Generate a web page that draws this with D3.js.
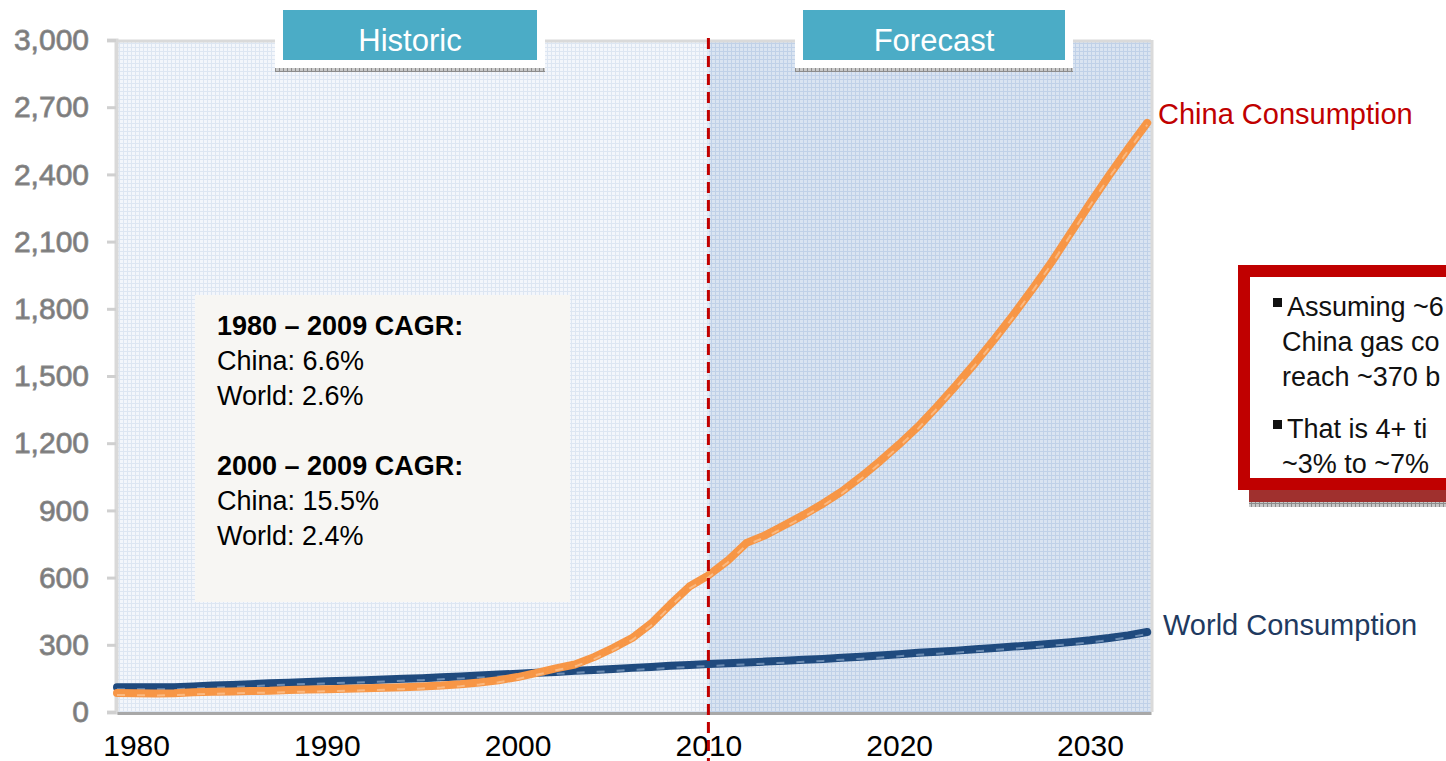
<!DOCTYPE html>
<html>
<head>
<meta charset="utf-8">
<script src="https://cdn.jsdelivr.net/npm/d3@7"></script>
<style>
  body { margin: 0; background: #fff; overflow: hidden; }
  svg { display: block; font-family: "Liberation Sans", Arial, sans-serif; }
</style>
</head>
<body>
<svg id="chart"></svg>
<script>
// gas consumption index
let years = d3.range(1979, 2034)
let chinaValues = [85, 84, 83, 84, 88, 90, 92, 94, 95, 98,
                   100, 102, 104, 106, 108, 111, 114, 118, 124, 132,
                   142, 156, 175, 195, 212, 245, 285, 330, 395, 480,
                   560, 610, 675, 755, 790, 835, 880, 930, 985, 1050,
                   1120, 1195, 1275, 1365, 1460, 1560, 1665, 1775, 1890, 2010,
                   2140, 2270, 2395, 2515, 2630]
let worldValues = [110, 110, 110, 110, 114, 118, 121, 124, 128, 131,
                   134, 137, 140, 142, 145, 148, 151, 155, 159, 163,
                   167, 171, 175, 179, 184, 188, 192, 197, 201, 206,
                   210, 214, 218, 221, 225, 229, 233, 237, 242, 247,
                   252, 258, 264, 269, 274, 280, 286, 292, 298, 305,
                   312, 320, 330, 342, 357]
let yTicks = [0, 300, 600, 900, 1200, 1500, 1800, 2100, 2400, 2700, 3000]
let xTicks = [1980, 1990, 2000, 2010, 2020, 2030]
let splitYear = 2010
let seriesLabels = ["China Consumption", "World Consumption"]
let phaseLabels = ["Historic", "Forecast"]
let cagrLines = [
    ["1980 – 2009 CAGR:", true],
    ["China: 6.6%", false],
    ["World: 2.6%", false],
    ["", false],
    ["2000 – 2009 CAGR:", true],
    ["China: 15.5%", false],
    ["World: 2.4%", false]
]
// the note runs off the right edge of the picture; only what shows is kept
let noteLines = [
    ["Assuming ~6", true],
    ["China gas co", false],
    ["reach ~370 b", false],
    ["That is 4+ ti", true],
    ["~3% to ~7%", false]
]

let chinaData = years.map((y, i) => [y, chinaValues[i]])
let worldData = years.map((y, i) => [y, worldValues[i]])

let width = 1446
let height = 761
let plotLeft = 117, plotRight = 1151, plotTop = 42, plotBottom = 712

let svg = d3.select("#chart")
            .attr("width", width)
            .attr("height", height)

let X = d3.scaleLinear()
          .domain([1979, 2033.2])
          .range([plotLeft, plotRight])

let Y = d3.scaleLinear()
          .domain([0, 3000])
          .range([plotBottom, plotTop - 2])

// background patterns
let defs = svg.append("defs")
function gridPattern(id, bg, lineColor) {
    let p = defs.append("pattern")
                .attr("id", id)
                .attr("width", 4)
                .attr("height", 4)
                .attr("patternUnits", "userSpaceOnUse")
    p.append("rect").attr("width", 4).attr("height", 4).attr("fill", bg)
    p.append("rect").attr("x", 3).attr("width", 1).attr("height", 4).attr("fill", lineColor)
    p.append("rect").attr("y", 3).attr("width", 4).attr("height", 1).attr("fill", lineColor)
}
gridPattern("hist-grid", "#F3F6FB", "#DDE6F2")
gridPattern("fore-grid", "#DAE4F1", "#C0D1E8")
gridPattern("shadow-dots", "#C8C8C8", "#8C8C8C")

svg.append("rect")
   .attr("x", plotLeft)
   .attr("y", plotTop)
   .attr("width", X(splitYear) - plotLeft)
   .attr("height", plotBottom - plotTop)
   .attr("fill", "url(#hist-grid)")

svg.append("rect")
   .attr("x", X(splitYear))
   .attr("y", plotTop)
   .attr("width", plotRight - X(splitYear))
   .attr("height", plotBottom - plotTop)
   .attr("fill", "url(#fore-grid)")

// frame
svg.append("line")
   .attr("x1", plotLeft).attr("x2", plotRight)
   .attr("y1", plotTop - 1).attr("y2", plotTop - 1)
   .attr("stroke", "#DADADA").attr("stroke-width", 3)
svg.append("line")
   .attr("x1", plotRight + 1).attr("x2", plotRight + 1)
   .attr("y1", plotTop - 2).attr("y2", plotBottom)
   .attr("stroke", "#DADADA").attr("stroke-width", 3)

// Y axis
let yaxis = d3.axisLeft(Y)
              .tickValues(yTicks)
              .tickSize(9)
              .tickPadding(18)
              .tickFormat(d3.format(","))
let gy = svg.append("g")
            .attr("transform", "translate(" + (plotLeft - 1) + ",0)")
            .call(yaxis)
gy.select(".domain")
  .attr("stroke", "#D9D9D9")
  .attr("stroke-width", 4)
gy.selectAll(".tick line")
  .attr("stroke", "#D0D0D0")
  .attr("stroke-width", 3)
gy.selectAll(".tick text")
  .attr("fill", "#7A7A7A")
  .attr("font-size", 30)
  .attr("font-family", "Liberation Sans, Arial, sans-serif")
  .attr("stroke", "#8A8A8A")
  .attr("stroke-width", 0.8)

// X axis
let xaxis = d3.axisBottom(X)
              .tickValues(xTicks)
              .tickSize(0)
              .tickPadding(22)
              .tickFormat(d3.format("d"))
let gx = svg.append("g")
            .attr("transform", "translate(0," + (plotBottom + 1) + ")")
            .call(xaxis)
gx.select(".domain")
  .attr("stroke", "#A8A8A8")
  .attr("stroke-width", 3)
gx.selectAll(".tick text")
  .attr("fill", "#000")
  .attr("font-size", 30)
  .attr("font-family", "Liberation Sans, Arial, sans-serif")

// CAGR text box
svg.append("rect")
   .attr("x", 195)
   .attr("y", 295)
   .attr("width", 375)
   .attr("height", 307)
   .attr("fill", "#F7F6F3")

svg.append("g")
   .selectAll("text")
   .data(cagrLines)
   .enter()
   .append("text")
   .attr("x", 217)
   .attr("y", (d, i) => 335 + i * 35)
   .attr("font-size", 27)
   .attr("font-weight", (d) => d[1] ? "bold" : "normal")
   .attr("fill", "#000")
   .text((d) => d[0])

// lines
let line = d3.line()
             .x((d) => X(d[0]))
             .y((d) => Y(d[1]))

function drawSeries(data, color, hilite) {
    svg.append("path")
       .attr("fill", "none")
       .attr("stroke", color)
       .attr("stroke-width", 8)
       .attr("stroke-linejoin", "round")
       .attr("stroke-linecap", "round")
       .attr("d", line(data))
    svg.append("path")
       .attr("fill", "none")
       .attr("stroke", hilite)
       .attr("stroke-width", 2)
       .attr("stroke-dasharray", "8,12")
       .attr("opacity", 0.7)
       .attr("transform", "translate(0,2)")
       .attr("d", line(data))
}
drawSeries(worldData, "#1F4A7E", "#8FA9CB")
drawSeries(chinaData, "#F79646", "#FBC79A")

// divider
svg.append("line")
   .attr("x1", X(splitYear)).attr("x2", X(splitYear))
   .attr("y1", 38).attr("y2", height)
   .attr("stroke", "#C00000")
   .attr("stroke-width", 3)
   .attr("stroke-dasharray", "11,7")

// phase boxes
let phaseBoxes = [[275, 270], [795, 278]]
phaseBoxes.forEach((b, i) => {
    let g = svg.append("g")
    g.append("rect")
     .attr("x", b[0]).attr("y", 68)
     .attr("width", b[1]).attr("height", 4)
     .attr("fill", "url(#shadow-dots)")
    g.append("rect")
     .attr("x", b[0]).attr("y", 5)
     .attr("width", b[1]).attr("height", 63)
     .attr("fill", "#fff")
    g.append("rect")
     .attr("x", b[0] + 8).attr("y", 10)
     .attr("width", b[1] - 16).attr("height", 50)
     .attr("fill", "#4BACC6")
    g.append("text")
     .attr("x", b[0] + b[1] / 2)
     .attr("y", 51)
     .attr("text-anchor", "middle")
     .attr("font-size", 31)
     .attr("fill", "#fff")
     .text(phaseLabels[i])
})

// series labels
svg.append("text")
   .attr("x", 1158)
   .attr("y", 124)
   .attr("font-size", 29)
   .attr("fill", "#C00000")
   .text(seriesLabels[0])
svg.append("text")
   .attr("x", 1163)
   .attr("y", 635)
   .attr("font-size", 29)
   .attr("fill", "#1F3A60")
   .text(seriesLabels[1])

// note box
svg.append("rect")
   .attr("x", 1249).attr("y", 490)
   .attr("width", 220).attr("height", 12)
   .attr("fill", "#A0302E")
svg.append("rect")
   .attr("x", 1249).attr("y", 502)
   .attr("width", 220).attr("height", 5)
   .attr("fill", "url(#shadow-dots)")
svg.append("rect")
   .attr("x", 1244).attr("y", 271)
   .attr("width", 260).attr("height", 213)
   .attr("fill", "#fff")
   .attr("stroke", "#C00000")
   .attr("stroke-width", 12)

let noteY = [316, 351, 386, 438, 473]
let notes = svg.append("g")
               .selectAll("g")
               .data(noteLines)
               .enter()
               .append("g")
notes.append("rect")
     .attr("x", 1273)
     .attr("y", (d, i) => noteY[i] - 18)
     .attr("width", 9)
     .attr("height", 9)
     .attr("fill", (d) => d[1] ? "#111" : "none")
notes.append("text")
     .attr("x", (d) => d[1] ? 1287 : 1282)
     .attr("y", (d, i) => noteY[i])
     .attr("font-size", 27)
     .attr("fill", "#111")
     .text((d) => d[0])
</script>
</body>
</html>
